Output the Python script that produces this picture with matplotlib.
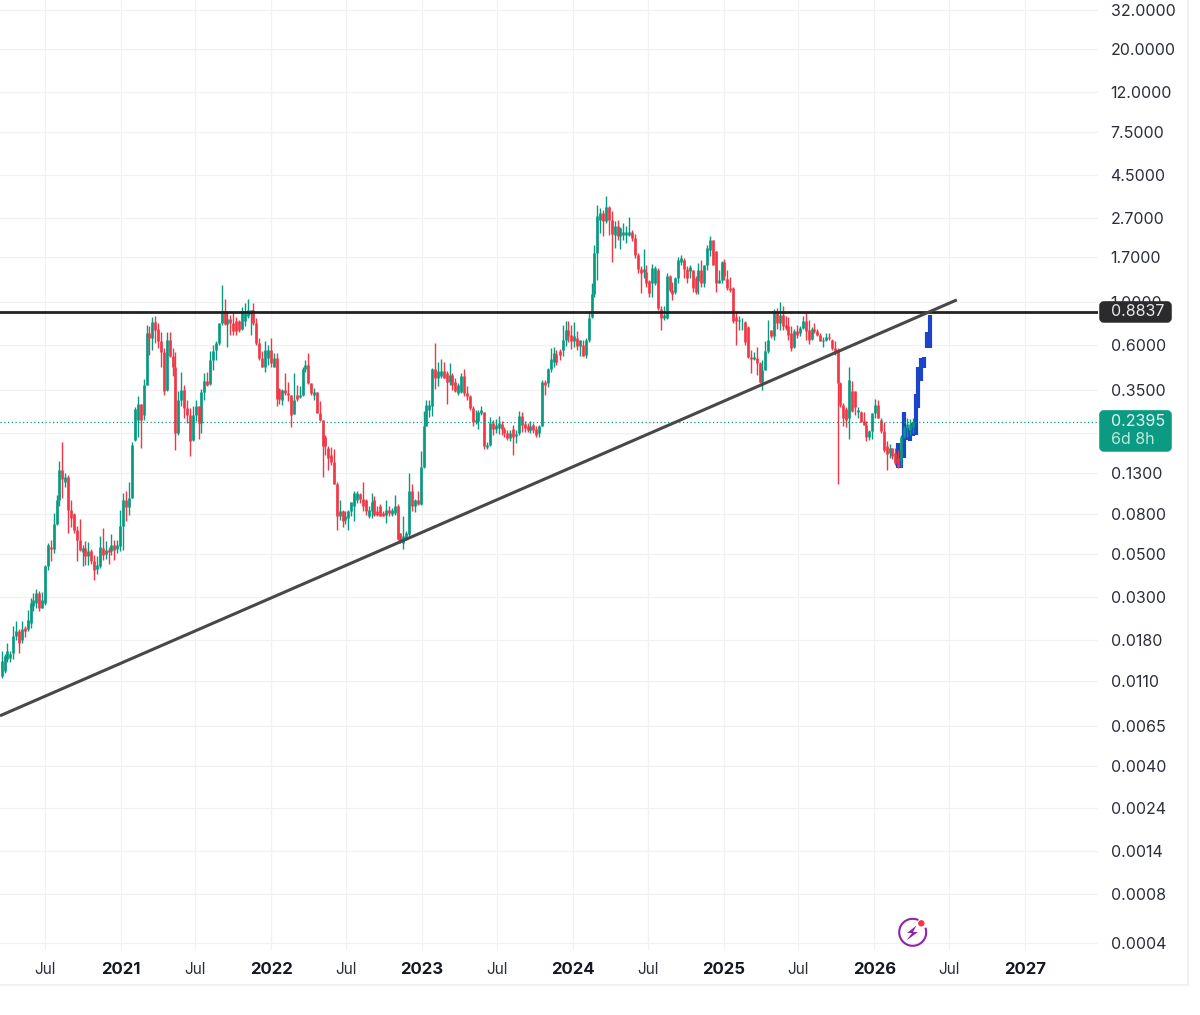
#!/usr/bin/env python3
"""Weekly candles on a log price scale with support lines and a drawn projection."""
import pandas as pd
import matplotlib
matplotlib.use('Agg')
import matplotlib.pyplot as plt
import matplotlib.dates as mdates
from matplotlib.patches import Circle, Arc, FancyBboxPatch, Polygon, Rectangle

plt.rcParams["font.family"] = ["Inter", "DejaVu Sans"]

# --- Data: weekly (open, high, low, close) ---
bars_2020 = [
    (.0118,.0158,.0115,.0141), (.0125,.0152,.0122,.0149), (.0143,.0174,.0138,.0157), (.0146,.0157,.0138,.0152),
    (.0155,.0212,.0143,.0188), (.0189,.0225,.0181,.0201), (.0201,.0204,.0154,.0174), (.0179,.0225,.0174,.0204),
    (.0207,.0212,.0186,.0200), (.0206,.0258,.0200,.0229), (.0220,.0296,.0207,.0280), (.0269,.0314,.0253,.0291),
    (.0280,.0329,.0264,.0314), (.0314,.0322,.0253,.0264), (.0264,.0318,.0264,.0291), (.0279,.0437,.0274,.0433),
    (.0433,.0570,.0415,.0558), (.0545,.0592,.0457,.0530), (.0530,.0813,.0508,.0717), (.0717,.101,.0708,.0952),
    (.0952,.150,.0880,.136), (.136,.188,.0971,.121), (.118,.130,.111,.124), (.125,.128,.0640,.0838),
    (.0838,.0945,.0685,.0770), (.0805,.0810,.0640,.0667), (.0667,.0695,.0462,.0592), (.0592,.0757,.0517,.0526),
    (.0510,.0558,.0434,.0535), (.0535,.0585,.0440,.0486), (.0489,.0573,.0440,.0517), (.0517,.0530,.0446,.0457),
    (.0457,.0496,.0368,.0415), (.0418,.0486,.0394,.0440), (.0433,.0622,.0425,.0545), (.0535,.0680,.0467,.0496),
    (.0501,.0580,.0470,.0522), (.0526,.0542,.0446,.0512), (.0517,.0635,.0496,.0558), (.0558,.0592,.0467,.0526),
    (.0530,.0592,.0508,.0558), (.0548,.0845,.0517,.0695), (.0695,.103,.0522,.0952), (.0952,.105,.0737,.0870),
    (.0870,.118,.0797,.0971), (.0971,.188,.0971,.183),
]
bars_2021 = [
    (.194,.285,.190,.280), (.246,.324,.201,.297), (.297,.297,.176,.246), (.261,.397,.246,.372),
    (.372,.760,.372,.689), (.689,.744,.532,.645), (.645,.837,.560,.783), (.783,.845,.612,.716),
    (.722,.775,.577,.625), (.625,.700,.462,.548), (.548,.577,.330,.345), (.350,.700,.347,.636),
    (.636,.700,.518,.524), (.524,.577,.411,.462), (.462,.547,.172,.211), (.211,.345,.206,.312),
    (.312,.435,.290,.351), (.351,.372,.251,.282), (.282,.312,.237,.261), (.261,.282,.159,.190),
    (.194,.290,.190,.261), (.261,.312,.241,.290), (.290,.290,.196,.237), (.237,.354,.209,.342),
    (.342,.430,.310,.388), (.388,.435,.365,.372), (.376,.553,.372,.498), (.498,.595,.445,.553),
    (.560,.625,.501,.612), (.612,.775,.600,.775), (.775,1.21,.760,.892), (.892,1.03,.760,.770),
    (.770,.892,.585,.815), (.815,.855,.675,.775), (.775,.875,.675,.705), (.790,.830,.675,.705),
    (.790,.806,.700,.716), (.722,.940,.716,.892), (.790,.985,.745,.870), (.845,1.03,.825,.908),
    (.862,.908,.675,.908), (.908,.985,.760,.775), (.775,.825,.600,.612), (.612,.650,.501,.511),
    (.511,.553,.458,.458), (.458,.625,.435,.565), (.511,.600,.472,.565), (.565,.650,.458,.481),
    (.458,.541,.458,.511), (.511,.541,.290,.315), (.354,.358,.297,.315), (.310,.354,.294,.351),
    (.351,.430,.330,.338), (.338,.387,.306,.331), (.331,.331,.226,.261), (.263,.430,.263,.312),
    (.331,.372,.306,.315), (.322,.368,.318,.331), (.328,.462,.325,.449), (.449,.501,.435,.472),
    (.472,.541,.376,.380), (.380,.380,.331,.338), (.331,.360,.310,.342), (.342,.342,.267,.267),
    (.267,.306,.241,.246), (.246,.246,.124,.181),
]
bars_2022 = [
    (.200,.204,.162,.181), (.175,.181,.136,.156), (.162,.177,.144,.148), (.148,.174,.114,.114),
    (.114,.117,.0667,.0787), (.0787,.0952,.0745,.0828), (.0828,.0845,.0691,.0735), (.0751,.0828,.0713,.0787),
    (.0768,.0845,.0667,.0828), (.0828,.0930,.0780,.0930), (.0880,.106,.0735,.103), (.0952,.106,.0915,.103),
    (.102,.103,.0915,.0965), (.0965,.117,.0828,.0880), (.0952,.0965,.0797,.0828), (.0780,.0880,.0768,.0845),
    (.0828,.103,.0768,.0930), (.0952,.0990,.0780,.0797), (.0828,.0880,.0787,.0797), (.0880,.0905,.0780,.0787),
    (.0810,.0828,.0780,.0787), (.0797,.0945,.0724,.0845), (.0845,.0880,.0780,.0813), (.0805,.0862,.0780,.0845),
    (.0813,.101,.0797,.0880), (.0880,.0905,.0592,.0597), (.0640,.0640,.0566,.0580), (.0566,.0780,.0530,.0615),
    (.0603,.0655,.0592,.0640), (.0635,.130,.0615,.106), (.106,.114,.0828,.0880), (.0880,.0965,.0820,.0952),
    (.0952,.106,.0897,.0908), (.0908,.169,.0897,.141), (.141,.272,.138,.228), (.228,.312,.228,.294),
    (.277,.310,.255,.294), (.290,.452,.258,.448), (.448,.611,.352,.405), (.405,.490,.365,.441),
    (.412,.505,.405,.438), (.438,.490,.405,.405), (.430,.438,.297,.385), (.385,.480,.372,.419),
    (.419,.430,.351,.372), (.385,.405,.340,.345), (.337,.382,.331,.372), (.340,.430,.337,.412),
    (.412,.450,.324,.337), (.337,.365,.312,.324), (.327,.331,.277,.283), (.283,.290,.228,.238),
    (.238,.277,.235,.246), (.241,.277,.220,.270), (.266,.290,.261,.277), (.270,.270,.174,.181),
    (.177,.188,.174,.183), (.183,.255,.181,.237), (.237,.246,.206,.220), (.220,.249,.210,.232),
    (.223,.257,.208,.237), (.235,.243,.206,.220), (.220,.225,.201,.210), (.210,.218,.194,.198),
    (.198,.218,.192,.211), (.220,.232,.162,.201), (.203,.218,.187,.208), (.210,.274,.206,.256),
    (.258,.270,.212,.232), (.235,.243,.212,.222), (.228,.237,.212,.218), (.218,.243,.210,.228),
    (.232,.237,.210,.218), (.220,.228,.201,.206), (.210,.232,.201,.229), (.229,.392,.228,.387),
    (.387,.395,.331,.372), (.380,.455,.361,.448), (.448,.577,.433,.507), (.490,.585,.460,.540),
    (.535,.560,.470,.490),
]
bars_2023 = [
    (.555,.570,.501,.532), (.565,.755,.522,.636), (.636,.790,.590,.716), (.716,.790,.622,.662),
    (.675,.760,.570,.625), (.625,.785,.580,.662), (.650,.705,.565,.590), (.593,.636,.525,.632),
    (.600,.636,.522,.525), (.532,.648,.512,.636), (.636,.892,.622,.822), (.835,1.24,.822,1.10),
    (1.10,1.96,1.05,1.78), (1.78,3.15,1.29,2.77), (2.64,3.03,2.26,2.86), (2.86,2.97,2.17,2.59),
    (2.59,3.52,2.54,3.08), (3.08,3.12,2.21,2.64), (2.64,2.94,1.60,2.23), (2.21,2.59,1.88,2.44),
    (2.44,2.64,2.08,2.18), (2.17,2.42,1.86,2.39), (2.21,2.55,2.08,2.27), (2.21,2.44,2.00,2.27),
    (2.21,2.74,2.17,2.27), (2.27,2.35,2.04,2.12), (2.12,2.23,1.67,1.74), (1.74,1.78,1.40,1.47),
    (1.47,1.52,1.11,1.40), (1.42,1.86,1.33,1.47), (1.42,1.55,1.19,1.24), (1.27,1.29,1.05,1.11),
    (1.24,1.57,1.06,1.49), (1.24,1.52,1.22,1.49), (1.46,1.49,.908,.925), (.915,.945,.710,.820),
    (.820,.945,.806,.855), (.820,1.40,.812,1.36), (1.36,1.37,1.12,1.15), (1.15,1.26,1.02,1.10),
    (1.12,1.34,1.09,1.33), (1.33,1.70,1.24,1.63), (1.60,1.74,1.55,1.67), (1.64,1.67,1.33,1.47),
    (1.47,1.53,1.24,1.33), (1.43,1.55,1.33,1.50), (1.46,1.46,1.12,1.17), (1.32,1.36,1.10,1.12),
    (1.27,1.58,1.09,1.46), (1.46,1.64,1.19,1.25), (1.25,1.55,1.19,1.55), (1.55,1.96,1.46,1.88),
    (1.85,2.18,1.72,2.08), (2.08,2.08,1.55,1.55), (1.83,1.83,1.12,1.25), (1.25,1.46,1.24,1.29),
    (1.29,1.62,1.25,1.60), (1.60,1.65,1.29,1.35), (1.31,1.46,1.15,1.17), (1.17,1.34,1.12,1.15),
    (1.18,1.19,.775,.790),
]
bars_2025 = [
    (.830,.880,.600,.790), (.790,.840,.716,.800), (.790,.820,.710,.790), (.780,.790,.600,.620),
    (.740,.750,.510,.515), (.515,.560,.430,.505), (.505,.550,.497,.520), (.510,.580,.420,.480),
    (.480,.490,.380,.385), (.385,.500,.348,.445), (.445,.625,.445,.555), (.555,.806,.540,.630),
    (.716,.716,.645,.665), (.665,.915,.636,.875), (.875,.930,.720,.775), (.775,1.00,.716,.855),
    (.855,.945,.716,.750), (.760,.840,.716,.730), (.745,.830,.636,.675), (.685,.745,.555,.575),
    (.580,.720,.575,.705), (.705,.755,.645,.675), (.690,.745,.665,.730), (.730,.840,.720,.790),
    (.790,.885,.636,.705), (.716,.800,.605,.636), (.640,.735,.636,.720), (.720,.775,.685,.705),
    (.705,.720,.665,.675), (.675,.685,.625,.625), (.625,.660,.585,.636), (.636,.690,.625,.660),
    (.660,.685,.636,.645), (.636,.640,.565,.575), (.575,.625,.532,.550), (.565,.575,.114,.380),
    (.380,.385,.285,.294), (.294,.300,.228,.250), (.280,.285,.225,.246), (.250,.460,.195,.395),
    (.345,.390,.270,.272), (.345,.345,.260,.285), (.268,.285,.250,.277), (.270,.274,.240,.240),
    (.243,.270,.232,.232), (.232,.243,.192,.200), (.200,.218,.194,.215), (.215,.267,.195,.265),
    (.265,.315,.250,.294), (.294,.312,.250,.250), (.246,.250,.210,.215), (.215,.240,.168,.172),
    (.179,.190,.135,.163), (.166,.185,.157,.175), (.175,.175,.155,.160), (.166,.175,.144,.147),
    (.157,.172,.138,.141), (.153,.206,.141,.200), (.200,.228,.198,.222), (.222,.250,.200,.235),
    (.218,.248,.206,.235), (.225,.250,.210,.2395),
]
bar_starts = ["2020-03-19", "2021-02-05", "2022-05-12", "2023-12-01", "2025-02-01"]

# hand drawn projection, one block per week
proj_start = "2026-02-28"
proj_high = [.186, .172, .271, .224, .218, .237, .335, .461, .511, .516, .697, .850]
proj_low = [.138, .139, .156, .194, .190, .203, .206, .283, .391, .456, .578, .578]

RESIST = 0.8837
LAST = 0.2395
COUNTDOWN = "6d 8h"
trend_dates = ["2020-03-15", "2026-07-20"]
trend_prices = [0.00732, 1.02]

# price scale labels are rounded, the levels sit a little off them at the low end
# the 0.21 level only shows as a grid line, its label would be under the badge
y_levels = [32, 20, 12, 7.5, 4.5, 2.7, 1.7, 1.0, 0.6, 0.35, 0.21, 0.13, 0.08, 0.05, 0.03,
            0.018, 0.011, 0.0065, 0.00404, 0.00245, 0.00147, 0.000884, 0.000494]
y_labels = ["32.0000", "20.0000", "12.0000", "7.5000", "4.5000", "2.7000", "1.7000", "1.0000",
            "0.6000", "0.3500", "", "0.1300", "0.0800", "0.0500", "0.0300", "0.0180",
            "0.0110", "0.0065", "0.0040", "0.0024", "0.0014", "0.0008", "0.0004"]
x_dates = ["2020-07-01", "2021-01-01", "2021-07-01", "2022-01-01", "2022-07-01", "2023-01-01",
           "2023-07-01", "2024-01-01", "2024-07-01", "2025-01-01", "2025-07-01", "2026-01-01",
           "2026-07-01", "2027-01-01"]
x_labels = ["Jul", "2021", "Jul", "2022", "Jul", "2023", "Jul", "2024", "Jul", "2025", "Jul",
            "2026", "Jul", "2027"]

COLOR = {
    "up": "#089981",
    "down": "#f23645",
    "proj": "#1b45c9",
    "grid": "#f0f1f3",
    "resist": "#222222",
    "trend": "#484848",
    "border": "#f1f1f1",
}

frames = []
for rows, start in zip([bars_2020, bars_2021, bars_2022, bars_2023, bars_2025], bar_starts):
    f = pd.DataFrame(rows, columns=["open", "high", "low", "close"])
    f["dt"] = pd.date_range(start, periods=len(f), freq="7D")
    frames.append(f)
df = pd.concat(frames, ignore_index=True)
up = df[df["close"] >= df["open"]]
down = df[df["close"] < df["open"]]

# --- Plot ---
fig = plt.figure(figsize=(12, 10.15), dpi=100, facecolor="white")
ax = fig.add_axes([0, 65 / 1015, 1098 / 1200, 950 / 1015])
ax.set_yscale("log")
ax.set_ylim(0.000454, 35.85)
ax.set_xlim(pd.Timestamp("2020-03-15"), pd.Timestamp("2027-06-27"))
for spine in ax.spines.values():
    spine.set_visible(False)

ax.yaxis.tick_right()
ax.minorticks_off()
ax.set_yticks(y_levels, y_labels)
ax.tick_params(axis="y", which="both", length=0, pad=9, labelsize=11.5, labelcolor="#2a2e39")
ax.set_xticks(pd.to_datetime(x_dates), x_labels)
ax.tick_params(axis="x", which="both", length=0, pad=8.5, labelsize=11, labelcolor="#2a2e39")
for lab in ax.get_xticklabels():
    if lab.get_text() != "Jul":
        lab.set_fontweight("bold")
        lab.set_fontsize(12)
        lab.set_color("#131722")
ax.grid(True, color=COLOR["grid"], lw=0.9, zorder=0)
ax.set_axisbelow(True)

# projection sits under the candles
proj_dt = pd.date_range(proj_start, periods=len(proj_high), freq="7D")
ax.vlines(proj_dt, proj_low, proj_high, color=COLOR["proj"], lw=3.0, zorder=2)

for part, col in [(up, COLOR["up"]), (down, COLOR["down"])]:
    ax.vlines(part["dt"], part["low"], part["high"], color=col, lw=1.0, zorder=3)
    ax.vlines(part["dt"], part["open"], part["close"], color=col, lw=1.9, zorder=3)

ax.axhline(LAST, color=COLOR["up"], lw=0.9, ls=(0, (1, 2)), zorder=4)
ax.axhline(RESIST, color=COLOR["resist"], lw=2.0, zorder=5)
ax.plot(pd.to_datetime(trend_dates), trend_prices, color=COLOR["trend"], lw=2.2, zorder=5,
        solid_capstyle="butt")

# --- Overlay in pixels: price badges, frame, icon ---
ov = fig.add_axes([0, 0, 1, 1], zorder=10)
ov.set_xlim(0, 1200)
ov.set_ylim(1015, 0)
ov.axis("off")


def price_y(price):
    # pixel row of a price on the main axis
    fig.canvas.draw()
    return 1015 - ax.transData.transform((0, price))[1]


def badge(y0, y1, color):
    ov.add_patch(FancyBboxPatch((1102, y0 + 2), 67, y1 - y0 - 4, boxstyle="round,pad=0,rounding_size=2",
                                mutation_aspect=1, fc=color, ec=color, lw=4, zorder=3))


ov.add_patch(Rectangle((1100, 949.5), 85, 10, fc="white", ec="none", zorder=1))
ov.plot([0, 1187.5, 1187.5], [985, 985, 0], color=COLOR["border"], lw=1.5, zorder=1)

y_res = price_y(RESIST)
badge(y_res - 10, y_res + 10, "#2b2b2d")
ov.text(1111, y_res, f"{RESIST:.4f}", color="#e8e8e8", fontsize=11.5, va="center", zorder=4)

y_last = price_y(LAST)
badge(y_last - 11, y_last + 29, "#0b9b82")
ov.text(1111, y_last, f"{LAST:.4f}", color="#e6f6f2", fontsize=11.5, va="center", zorder=4)
ov.text(1111, y_last + 18, COUNTDOWN, color="#bfe8dd", fontsize=11.5, va="center", zorder=4)

# lightning icon
ov.add_patch(Arc((912.7, 932.3), 27, 27, angle=0, theta1=-20, theta2=295, color="#8e24aa", lw=1.5, zorder=4))
ov.add_patch(Polygon([(916.5, 925.5), (907, 933), (912, 933), (906.5, 940.5), (918, 932), (913, 932)],
                     closed=True, fc="#8e24aa", ec="none", zorder=4))
ov.add_patch(Circle((921.3, 923.3), 3.2, fc="#f23645", ec="none", zorder=5))

fig.savefig("out.png", dpi=100, facecolor="white")
plt.close()
